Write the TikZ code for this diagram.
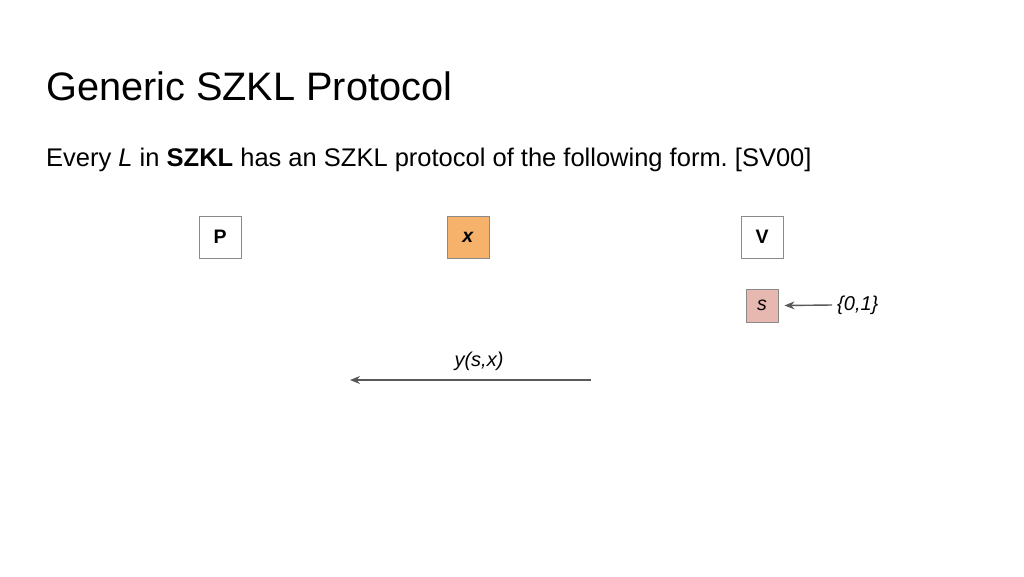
\documentclass[tikz,border=0pt]{standalone}
\usepackage{fontspec}
\setmainfont{Liberation Sans}
\usetikzlibrary{arrows.meta}
\definecolor{boxline}{HTML}{8A8A8A}
\definecolor{xfill}{HTML}{F6B26B}
\definecolor{sfill}{HTML}{E6B8AF}
\definecolor{arrowgray}{HTML}{595959}
\tikzset{
  party/.style={draw=boxline, line width=1pt, fill=white, minimum width=42pt, minimum height=42pt, inner sep=0pt, font=\fontsize{19.5}{22}\selectfont\bfseries},
  smallbox/.style={draw=boxline, line width=1pt, minimum width=32pt, minimum height=33pt, inner sep=0pt, font=\fontsize{19.5}{22}\selectfont\itshape},
  lbl/.style={inner sep=0pt, font=\fontsize{20}{24}\selectfont\itshape},
  msg/.style={draw=arrowgray, line width=1.4pt, -{Stealth[length=10pt,width=8pt]}}
}
\begin{document}
\frenchspacing
\begin{tikzpicture}[x=1pt,y=-1pt]
\useasboundingbox (0,0) rectangle (1024,576);
\node[anchor=base west, inner sep=0pt, font=\fontsize{39.7}{44}\selectfont] (title) at (46,100) {Generic SZKL Protocol};
\node[anchor=base west, inner sep=0pt, font=\fontsize{25.5}{30}\selectfont] (sub) at (46,166) {Every \textit{L} in \textbf{SZKL} has an SZKL protocol of the following form. [SV00]};
\node[party] (P) at (220,237) {P};
\node[party, fill=xfill] (X) at (468,237) {\textit{x}};
\node[party] (V) at (762,237) {V};
\node[smallbox, fill=sfill] (S) at (762,305.5) {s};
\node[lbl, anchor=west] (bits) at (837,305) {\{0,1\}};
\draw[msg] ([xshift=-5pt]bits.west) -- ([xshift=6pt]S.east);
\coordinate (yfrom) at (591,380);
\coordinate (yto) at (350,380);
\draw[msg] (yfrom) -- (yto);
\node[lbl] (ylab) at (479,361) {y(s,x)};
\end{tikzpicture}
\end{document}
